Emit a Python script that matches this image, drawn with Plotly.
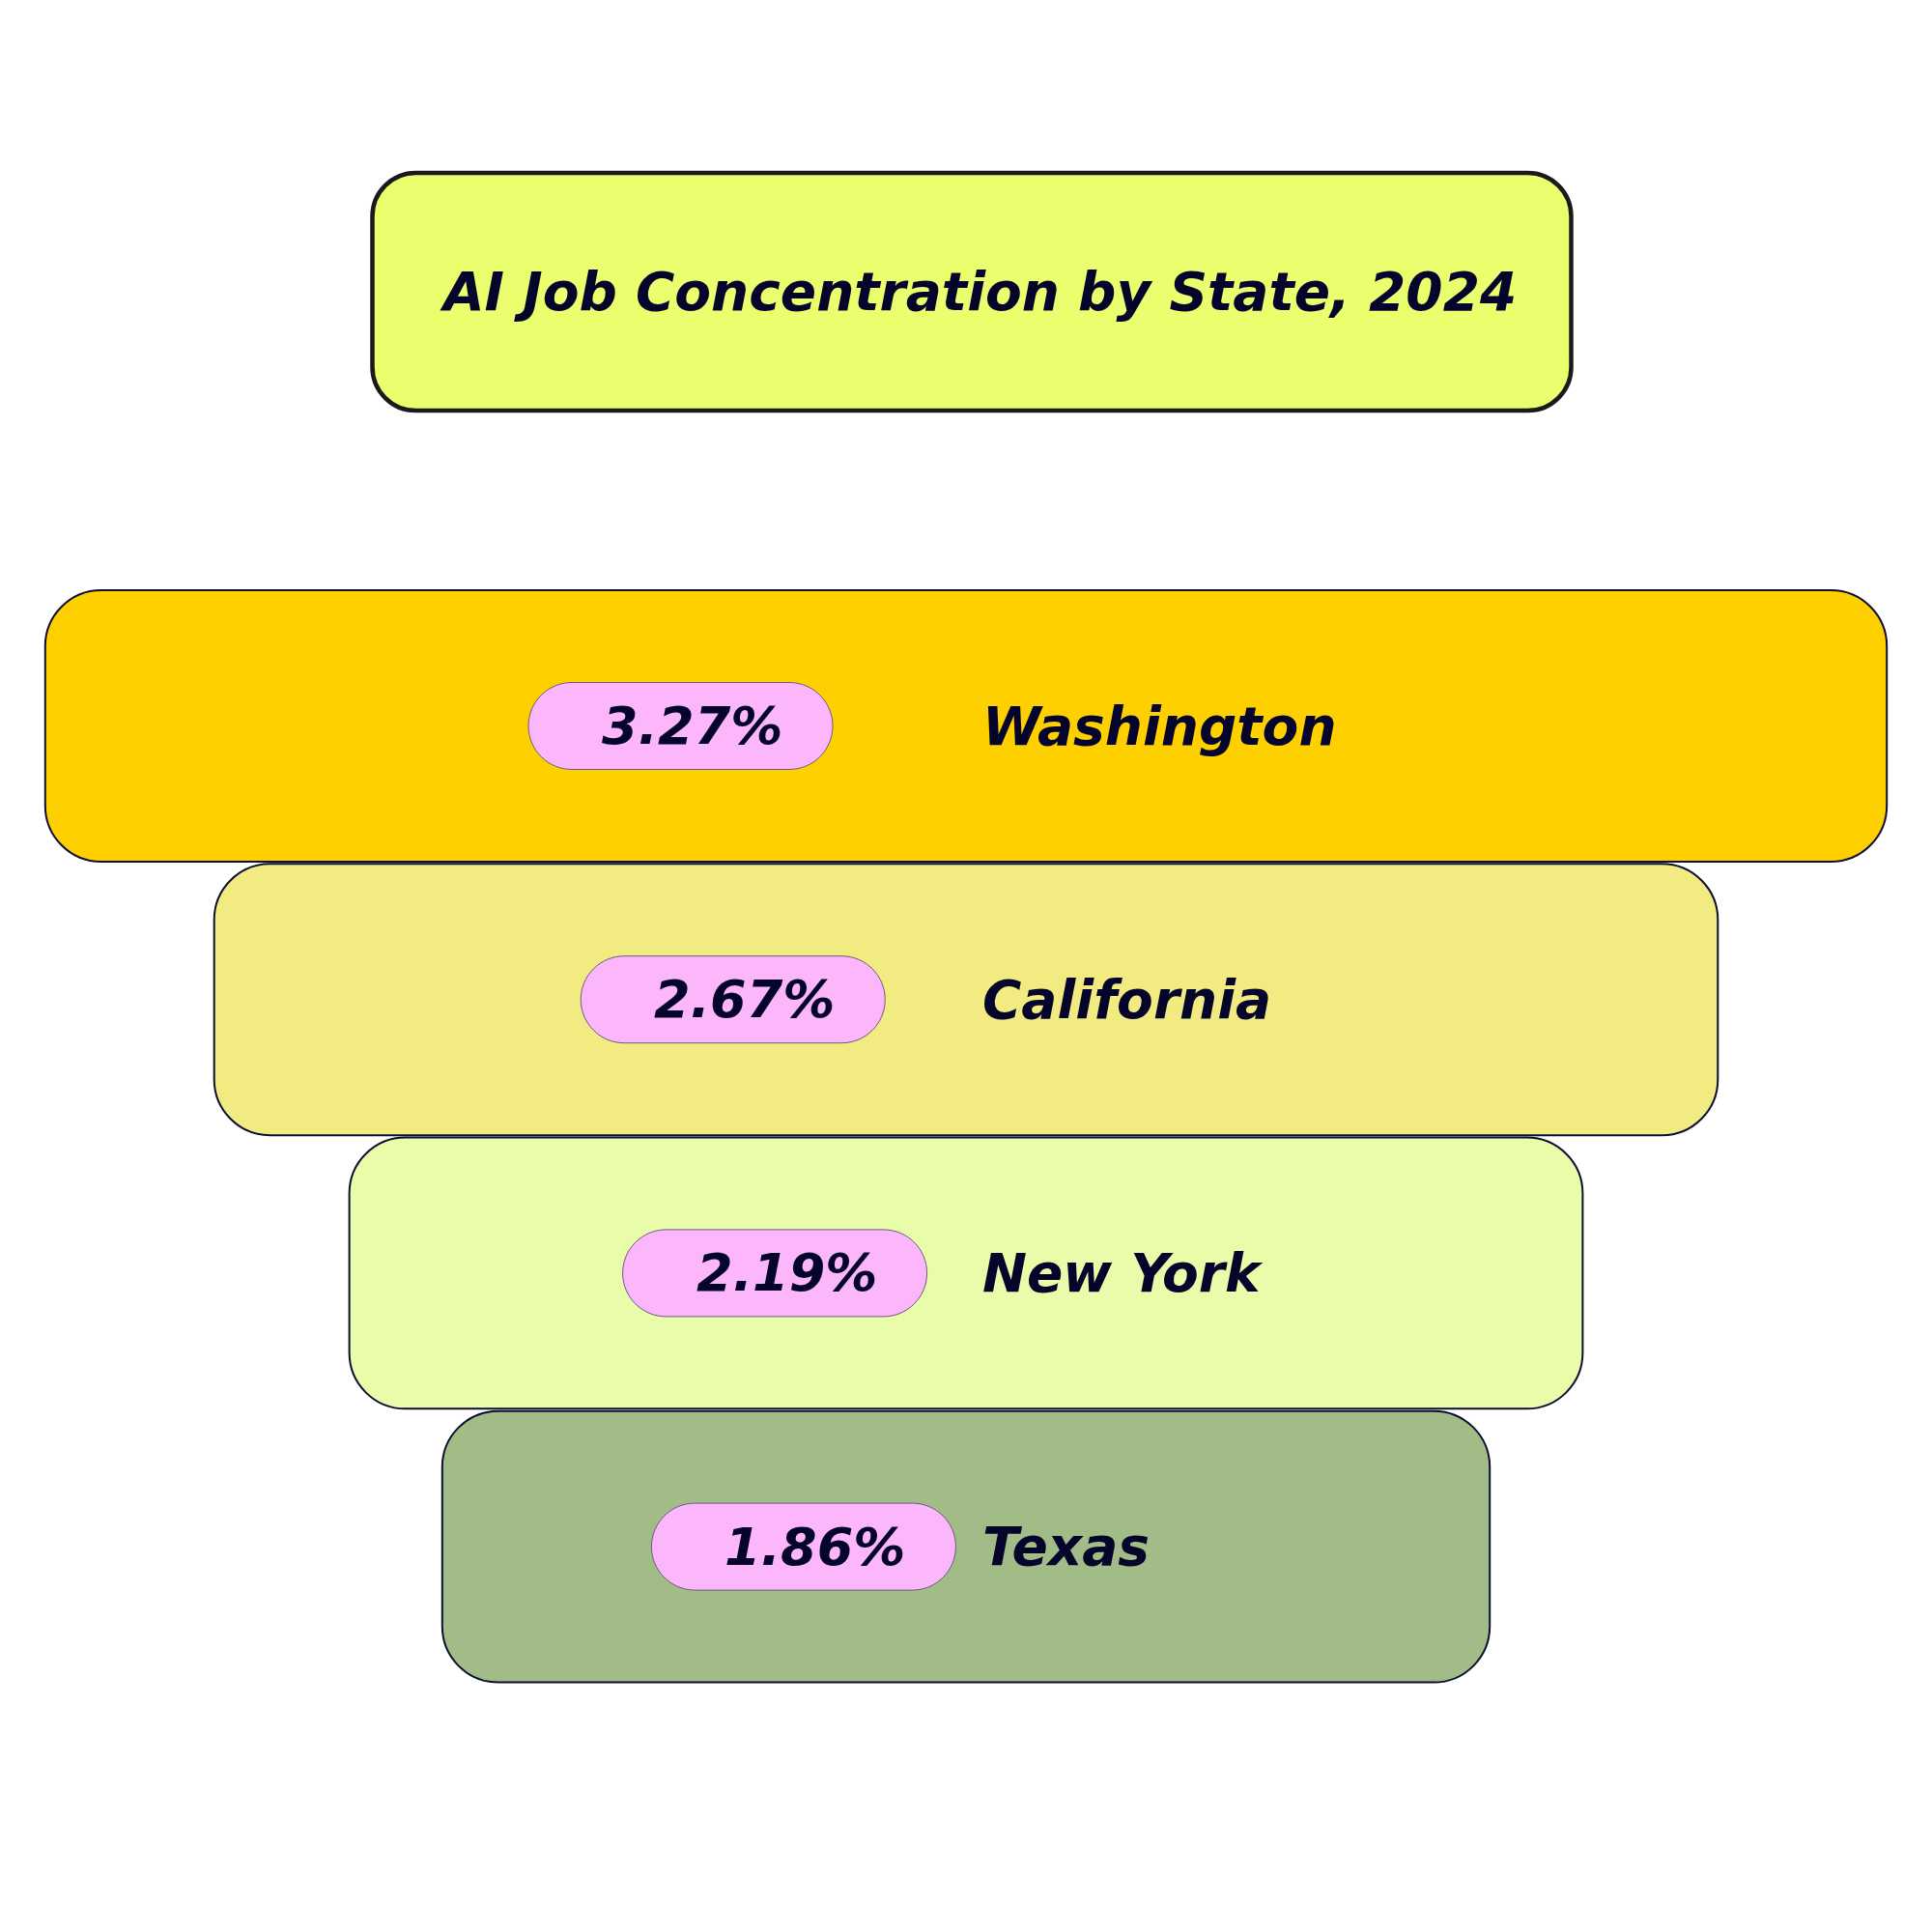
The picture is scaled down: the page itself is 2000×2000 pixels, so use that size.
import plotly.graph_objects as go

# ---- data ----
states = ["Washington", "California", "New York", "Texas"]
shares = [3.27, 2.67, 2.19, 1.86]
bar_colors = ["#FFD000", "#F1EB81", "#E9FCA9", "#A2BC88"]
title_text = "AI Job Concentration by State, 2024"

# ---- style ----
INK = "#05052B"
OUTLINE = "#0D0D30"
PILL_FILL = "#FCB6FC"
PILL_LINE = "#6B5A7E"
TITLE_FILL = "#EBFF6E"
W = H = 2000
PX_PER_UNIT = 583.0          # horizontal scale (pixels per percentage point)
ROW_PITCH = 283.2            # pixels per category row
FIRST_ROW_CENTER = 751.5     # pixel position (from top) of first row centre
FONT = "DejaVu Sans"

half_range = (W / 2) / PX_PER_UNIT
span = H / ROW_PITCH
low = -FIRST_ROW_CENTER / ROW_PITCH
y_range = [low + span, low]

K = 0.5523


def rounded_path(w, h, r):
    """Rounded rectangle path in pixel offsets around an anchor."""
    hw, hh = w / 2, h / 2
    x0, x1 = -hw + r, hw - r
    y0, y1 = -hh + r, hh - r
    c = K * r
    return (
        f"M {x0},{-hh} L {x1},{-hh} "
        f"C {x1 + c},{-hh} {hw},{y0 - c} {hw},{y0} "
        f"L {hw},{y1} "
        f"C {hw},{y1 + c} {x1 + c},{hh} {x1},{hh} "
        f"L {x0},{hh} "
        f"C {x0 - c},{hh} {-hw},{y1 + c} {-hw},{y1} "
        f"L {-hw},{y0} "
        f"C {-hw},{y0 - c} {x0 - c},{-hh} {x0},{-hh} Z"
    )


fig = go.Figure()
# centred funnel bars: each bar spans -v/2 .. +v/2
fig.add_trace(go.Bar(
    orientation="h", y=states, x=shares, base=[-v / 2 for v in shares],
    width=0.992, hoverinfo="skip", showlegend=False,
    marker=dict(color=bar_colors, line=dict(color=OUTLINE, width=2), cornerradius=58),
))

shapes = []
annotations = []

# title box
shapes.append(dict(type="path", xref="paper", yref="paper",
                   xsizemode="pixel", ysizemode="pixel",
                   xanchor=0.503, yanchor=0.849,
                   path=rounded_path(1241, 246, 45),
                   fillcolor=TITLE_FILL, line=dict(color="#1A1A1A", width=4.5),
                   layer="above"))
annotations.append(dict(text=title_text, xref="paper", yref="paper",
                        x=0.506, y=0.849, xanchor="center", yanchor="middle",
                        showarrow=False,
                        font=dict(family=FONT, size=55, color=INK,
                                  weight="bold", style="italic")))

for i, (s, v) in enumerate(zip(states, shares)):
    px = -0.155 * v
    shapes.append(dict(type="path", xref="x", yref="y",
                       xsizemode="pixel", ysizemode="pixel",
                       xanchor=px, yanchor=i,
                       path=rounded_path(315, 90, 45),
                       fillcolor=PILL_FILL, line=dict(color=PILL_LINE, width=1),
                       layer="above"))
    annotations.append(dict(text=f"{v:.2f}%", x=px, y=i, xref="x", yref="y",
                            xshift=12, xanchor="center", yanchor="middle",
                            showarrow=False,
                            font=dict(family=FONT, size=54, color=INK,
                                      weight="bold", style="italic")))
    annotations.append(dict(text=s, x=0, y=i, xref="x", yref="y",
                            xanchor="left", yanchor="middle", xshift=15,
                            showarrow=False,
                            font=dict(family=FONT, size=55, color=INK,
                                      weight="bold", style="italic")))

fig.update_layout(
    width=W, height=H,
    margin=dict(l=0, r=0, t=0, b=0, pad=0),
    paper_bgcolor="white", plot_bgcolor="white",
    xaxis=dict(range=[-half_range, half_range], visible=False, fixedrange=True),
    yaxis=dict(type="category", range=y_range, visible=False, fixedrange=True),
    shapes=shapes,
    annotations=annotations,
    showlegend=False,
)

fig.write_html("out.html", config={"displayModeBar": False},
               post_script="document.body.style.margin='0';")
